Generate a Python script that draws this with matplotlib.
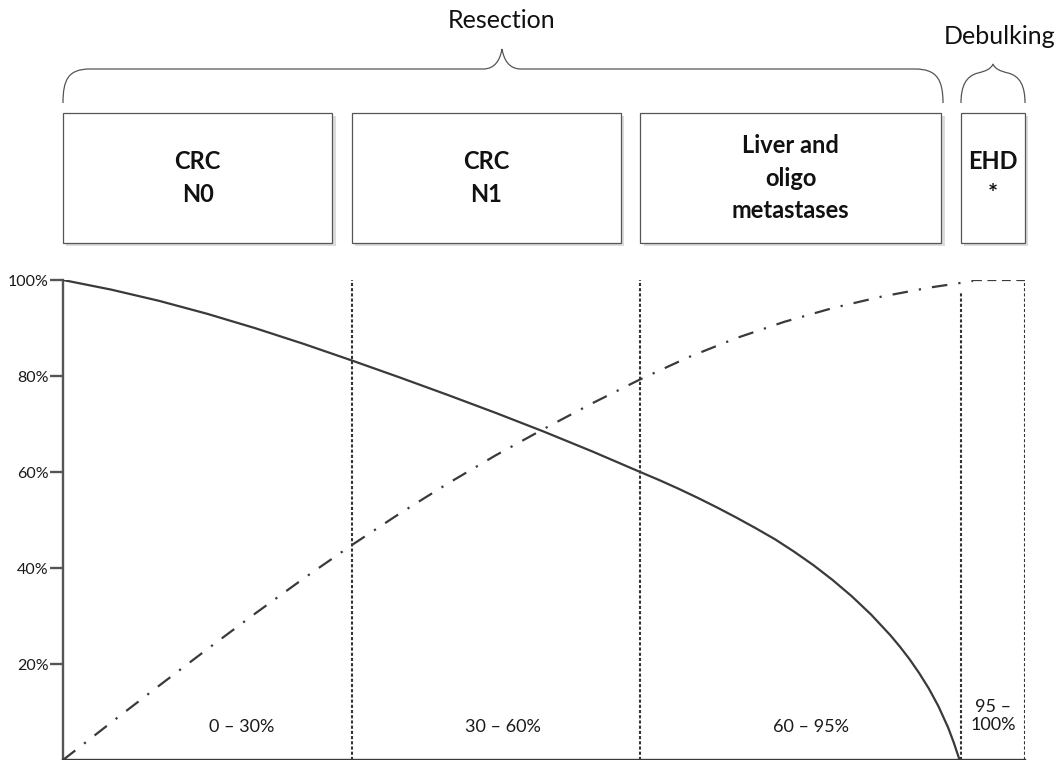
import matplotlib
matplotlib.use("Agg")
import matplotlib.pyplot as plt
from matplotlib.path import Path
from matplotlib.patches import PathPatch, Rectangle
from matplotlib.transforms import blended_transform_factory

# ---------------- data ----------------
boundaries = [0, 30, 60, 93.3, 100]
range_labels = ["0 \u2013 30%", "30 \u2013 60%", "60 \u2013 95%", "95 \u2013\n100%"]
box_labels = ["CRC\nN0", "CRC\nN1", "Liver and\noligo\nmetastases", "EHD\n*"]
group_labels = ["Resection", "Debulking"]

solid_x = [0, 5, 10, 15, 20, 25, 30, 35, 40, 45, 50, 55, 60, 62, 64, 66, 68,
           70, 72, 74, 76, 78, 80, 82, 84, 86, 87, 88, 89, 90, 91, 92, 92.6, 93.2]
solid_y = [100, 98.0, 95.65, 92.95, 89.95, 86.7, 83.25, 79.7, 76.05, 72.3,
           68.4, 64.3, 60.0, 58.3, 56.5, 54.6, 52.6, 50.5, 48.3, 46.0, 43.4,
           40.6, 37.5, 34.1, 30.3, 26.0, 23.6, 21.0, 18.1, 14.9, 11.2, 6.8,
           3.6, 0]

dash_x = [0, 5, 10, 15, 20, 25, 30, 35, 40, 45, 50, 55, 60, 65, 70, 75, 80,
          85, 90, 93, 94.6]
dash_y = [0, 7.8, 15.5, 23.1, 30.55, 37.8, 44.75, 51.35, 57.6, 63.5, 69.0,
          74.3, 79.3, 83.9, 87.9, 91.3, 94.15, 96.5, 98.4, 99.3, 99.8]

plateau_x = [94.6, 100]
plateau_y = [100, 100]

yticks = [20, 40, 60, 80, 100]
ytick_labels = ["20%", "40%", "60%", "80%", "100%"]

# ---------------- style ----------------
plt.rcParams['font.family'] = ['Lato', 'DejaVu Sans']
DARK = "#3a3a3a"
W, H = 1062, 760

fig = plt.figure(figsize=(W / 100, H / 100), dpi=100)
ax = fig.add_axes([63 / W, 0.0, 962 / W, 480 / H])
ax.set_facecolor("none")
ax.set_xlim(0, 100)
ax.set_ylim(0, 100)

# curves
ax.plot(solid_x, solid_y, color=DARK, lw=1.6, solid_capstyle='butt', zorder=3)
ax.plot(dash_x, dash_y, color=DARK, lw=1.6, linestyle=(0, (7, 5, 1, 5)), zorder=3)
ax.plot(plateau_x, plateau_y, color=DARK, lw=1.6, linestyle=(0, (4, 2.5)), zorder=3)

# dotted separators
dot_style = dict(color="#333333", lw=1.5, linestyle=(0, (1.5, 1.0)), zorder=2)
for b in boundaries[1:3]:
    ax.plot([b, b], [0, 100], **dot_style)
ax.plot([boundaries[3], boundaries[3]], [0, 97.3], **dot_style)
ax.plot([boundaries[4], boundaries[4]], [0, 100], **dot_style)

# axes
for s in ["top", "right"]:
    ax.spines[s].set_visible(False)
ax.spines["left"].set_color("#555555")
ax.spines["left"].set_linewidth(1.7)
ax.spines["bottom"].set_color(DARK)
ax.spines["bottom"].set_linewidth(1.7)
ax.set_xticks([])
ax.set_yticks(yticks)
ax.set_yticklabels(ytick_labels, fontsize=11.5, color="#1a1a1a")
ax.tick_params(axis="y", length=9.5, width=1.7, color="#555555", pad=1)

# range labels
range_pos = [(18.6, 6.9), (45.7, 6.9), (77.8, 6.9), (96.7, 9.2)]
for lab, (x, y) in zip(range_labels, range_pos):
    ax.text(x, y, lab, ha="center", va="center", fontsize=13,
            color="#1a1a1a", linespacing=1.15)

# ---------------- overlay (pixel coordinates) ----------------
ov = fig.add_axes([0, 0, 1, 1])
ov.set_xlim(0, W)
ov.set_ylim(H, 0)
ov.axis("off")
ov.patch.set_visible(False)

trans_box = blended_transform_factory(ax.transData, ov.transData)
gap = 2.0
for i, lab in enumerate(box_labels):
    x0 = boundaries[i]
    x1 = boundaries[i + 1] - (gap if i < len(box_labels) - 1 else 0)
    shadow = Rectangle((x0 + 0.35, 116), x1 - x0, 129.5, transform=trans_box,
                       facecolor="#dcdcdc", edgecolor="none", zorder=1)
    box = Rectangle((x0, 113), x1 - x0, 129.5, transform=trans_box,
                    facecolor="white", edgecolor="#555555", lw=0.9, zorder=2)
    ov.add_patch(shadow)
    ov.add_patch(box)
    ov.text((x0 + x1) / 2, 178, lab, transform=trans_box, ha="center",
            va="center", fontsize=17, fontweight="bold", color="#111111",
            linespacing=1.5, zorder=3)

# braces
def brace_path(pts_codes):
    verts, codes = zip(*pts_codes)
    return Path(verts, codes)

M, C, L = Path.MOVETO, Path.CURVE4, Path.LINETO
res = [((63, 103), M), ((63, 80), C), ((68, 69), C), ((90, 69), C),
       ((483, 69), L), ((495, 69), C), ((500, 60), C), ((502, 49), C),
       ((504, 60), C), ((509, 69), C), ((521, 69), C),
       ((915, 69), L), ((937, 69), C), ((943, 80), C), ((943, 103), C)]
deb = [((961, 103), M), ((961, 86), C), ((966, 76), C), ((978, 73), C),
       ((986, 71), C), ((991, 69), C), ((993, 64), C),
       ((995, 69), C), ((1000, 71), C), ((1008, 73), C),
       ((1020, 76), C), ((1025, 86), C), ((1025, 103), C)]
for p in (res, deb):
    ov.add_patch(PathPatch(brace_path(p), facecolor="none",
                           edgecolor="#555555", lw=0.9))

ov.text(502, 20, group_labels[0], ha="center", va="center", fontsize=18,
        color="#111111")
ov.text(1000, 36, group_labels[1], ha="center", va="center", fontsize=18,
        color="#111111")

fig.savefig("out.png", dpi=100)
